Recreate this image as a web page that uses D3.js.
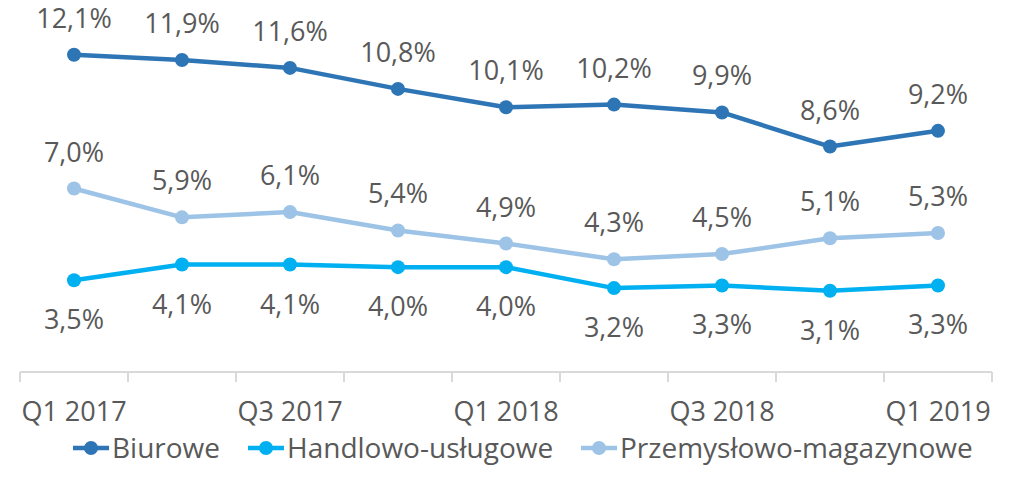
<!DOCTYPE html>
<html>
<head>
<meta charset="utf-8">
<script src="https://d3js.org/d3.v7.min.js"></script>
<style>
  body { margin: 0; background: #fff; }
  svg text { font-family: "Open Sans", sans-serif; fill: #595959; }
</style>
</head>
<body>
<svg id="chart" width="1018" height="493"></svg>
<script>
"use strict";

// quarters on the x axis, only every other one gets a label
const quarters = ['Q1 2017', 'Q2 2017', 'Q3 2017', 'Q4 2017', 'Q1 2018',
  'Q2 2018', 'Q3 2018', 'Q4 2018', 'Q1 2019'];
const tickLabels = ['Q1 2017', 'Q3 2017', 'Q1 2018', 'Q3 2018', 'Q1 2019'];

const biurowe = [12.1, 11.9, 11.6, 10.8, 10.1, 10.2, 9.9, 8.6, 9.2];
const handlowe = [3.5, 4.1, 4.1, 4.0, 4.0, 3.2, 3.3, 3.1, 3.3];
const przemyslowe = [7.0, 5.9, 6.1, 5.4, 4.9, 4.3, 4.5, 5.1, 5.3];

const seriesNames = ['Biurowe', 'Handlowo-usługowe', 'Przemysłowo-magazynowe'];

(function () {
  let svg = d3.select('#chart');
  let fontSize = 27;

  let series = [
    {name: seriesNames[0], values: biurowe, color: '#2E75B6', labelPos: 'above'},
    {name: seriesNames[1], values: handlowe, color: '#00B0F0', labelPos: 'below'},
    {name: seriesNames[2], values: przemyslowe, color: '#9DC3E6', labelPos: 'above'}
  ];

  let xScale = d3.scaleBand()
    .domain(quarters)
    .range([20, 992]);

  let yScale = d3.scaleLinear()
    .domain([0, 14])
    .range([372, 5]);

  function cx(i) {
    return xScale(quarters[i]) + xScale.bandwidth() / 2;
  }

  // axis line + ticks at the band edges
  let xAxis = d3.axisBottom(xScale)
    .tickSize(0)
    .tickFormat(function (d) {
      return tickLabels.indexOf(d) >= 0 ? d : '';
    });

  let axisG = svg.append('g')
    .attr('transform', 'translate(0,372)')
    .call(xAxis);
  axisG.select('.domain').remove();
  axisG.selectAll('text')
    .attr('y', 49)
    .attr('dy', null)
    .style('font-size', fontSize + 'px')
    .style('font-family', '"Open Sans", sans-serif')
    .attr('fill', '#595959');

  axisG.append('line')
    .attr('x1', xScale.range()[0]).attr('x2', xScale.range()[1])
    .attr('y1', 0).attr('y2', 0)
    .attr('stroke', '#D9D9D9').attr('stroke-width', 2);

  let edges = quarters.map(function (q) { return xScale(q); });
  edges.push(xScale.range()[1]);
  axisG.selectAll('line.edge')
    .data(edges)
    .enter()
    .append('line')
    .attr('class', 'edge')
    .attr('x1', function (d) { return d; })
    .attr('x2', function (d) { return d; })
    .attr('y1', 0).attr('y2', 10)
    .attr('stroke', '#D9D9D9').attr('stroke-width', 2);

  let line = d3.line()
    .x(function (d, i) { return cx(i); })
    .y(function (d) { return yScale(d); });

  // draw lower series first so Biurowe sits on top
  let drawOrder = [series[2], series[1], series[0]];
  drawOrder.forEach(function (s) {
    svg.append('path')
      .datum(s.values)
      .attr('d', line)
      .attr('fill', 'none')
      .attr('stroke', s.color)
      .attr('stroke-width', 4.5)
      .attr('stroke-linejoin', 'round');

    svg.selectAll(null)
      .data(s.values)
      .enter()
      .append('circle')
      .attr('cx', function (d, i) { return cx(i); })
      .attr('cy', function (d) { return yScale(d); })
      .attr('r', 7)
      .attr('fill', s.color);
  });

  series.forEach(function (s) {
    svg.selectAll(null)
      .data(s.values)
      .enter()
      .append('text')
      .attr('x', function (d, i) { return cx(i); })
      .attr('y', function (d) {
        return s.labelPos === 'above' ? yScale(d) - 27 : yScale(d) + 49;
      })
      .attr('text-anchor', 'middle')
      .style('font-size', fontSize + 'px')
      .text(function (d) { return d.toFixed(1).replace('.', ',') + '%'; });
  });

  // legend
  let legendX = [73, 248, 581];
  let legend = svg.selectAll('g.legend')
    .data(series)
    .enter()
    .append('g')
    .attr('class', 'legend')
    .attr('transform', function (d, i) {
      return 'translate(' + legendX[i] + ',448)';
    });

  legend.append('line')
    .attr('x1', 0).attr('x2', 36)
    .attr('y1', 0).attr('y2', 0)
    .attr('stroke', function (d) { return d.color; })
    .attr('stroke-width', 4.5);
  legend.append('circle')
    .attr('cx', 18).attr('cy', 0).attr('r', 7)
    .attr('fill', function (d) { return d.color; });
  legend.append('text')
    .attr('x', 39)
    .attr('y', 10)
    .style('font-size', '28px')
    .text(function (d) { return d.name; });
})();
</script>
</body>
</html>
